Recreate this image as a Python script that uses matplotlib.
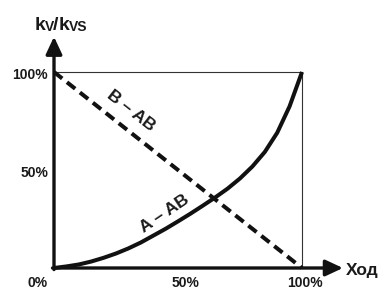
import matplotlib
matplotlib.use("Agg")
import matplotlib.pyplot as plt
import numpy as np

plt.rcParams['font.family'] = ['Liberation Sans', 'DejaVu Sans']
plt.rcParams['font.weight'] = 'bold'

# Data (fraction of stroke / fraction of kvs)
stroke = [0.0, 0.05, 0.10, 0.15, 0.20, 0.25, 0.30, 0.35, 0.40, 0.45, 0.50,
          0.55, 0.60, 0.65, 0.70, 0.75, 0.80, 0.85, 0.90, 0.95, 1.00]
a_ab = [0.0, 0.008, 0.018, 0.033, 0.052, 0.074, 0.100, 0.130, 0.165, 0.200, 0.238,
        0.277, 0.318, 0.360, 0.405, 0.457, 0.518, 0.592, 0.690, 0.825, 1.0]
b_ab_x = [0.0, 1.0]
b_ab_y = [1.0, 0.0]
x_ticks = [0.0, 0.5, 1.0]
x_tick_labels = ['0%', '50%', '100%']
y_ticks = [0.5, 1.0]
y_tick_labels = ['50%', '100%']

W, H = 390, 289
fig = plt.figure(figsize=(W / 100, H / 100), dpi=100)
ax = fig.add_axes([54 / W, 1 - 268 / H, 248 / W, 196 / H])
ax.set_xlim(0, 1)
ax.set_ylim(0, 1)

lw = 2.9
ax.plot(stroke, a_ab, color='#111111', lw=lw, solid_capstyle='butt', clip_on=False, zorder=3)
ax.plot(b_ab_x, b_ab_y, color='#111111', lw=lw, dashes=(2.6, 1.5), dash_capstyle='butt',
        clip_on=False, zorder=3)

for s in ['top', 'right']:
    ax.spines[s].set_linewidth(0.8)
    ax.spines[s].set_color('#333333')
for s in ['left', 'bottom']:
    ax.spines[s].set_visible(False)

ax.set_xticks([])
ax.set_yticks([])

# axes with arrows
arrow_style = '-|>,head_length=0.75,head_width=0.35'
ax.annotate('', xy=(1.165, 0), xytext=(-0.006, 0), xycoords='data',
            arrowprops=dict(arrowstyle=arrow_style, lw=2.4, color='#111111',
                            mutation_scale=14, shrinkA=0, shrinkB=0), annotation_clip=False)
ax.annotate('', xy=(0, 1.18), xytext=(0, -0.008), xycoords='data',
            arrowprops=dict(arrowstyle=arrow_style, lw=2.4, color='#111111',
                            mutation_scale=14, shrinkA=0, shrinkB=0), annotation_clip=False)

# tick labels
for v, lab, off in zip(x_ticks, x_tick_labels, [-16, 8, 3]):
    ax.annotate(lab, xy=(v, 0), xytext=(off, -15), textcoords='offset pixels',
                ha='center', va='center', fontsize=10, fontweight='bold', color='#1a1a1a',
                annotation_clip=False)
for v, lab in zip(y_ticks, y_tick_labels):
    ax.annotate(lab, xy=(0, v), xytext=(-6, -3), textcoords='offset pixels',
                ha='right', va='center', fontsize=10, fontweight='bold', color='#1a1a1a',
                annotation_clip=False)

# axis titles
ax.annotate('Ход', xy=(1.165, 0), xytext=(3, -3), textcoords='offset pixels',
            ha='left', va='center', fontsize=12.5, fontweight='bold', color='#1a1a1a',
            annotation_clip=False)
fig.text(35 / W, 1 - 30 / H, 'k', fontsize=14, fontweight='bold', color='#1a1a1a',
         ha='left', va='baseline')
fig.text(45 / W, 1 - 31 / H, 'V', fontsize=10, fontweight='bold', color='#1a1a1a',
         ha='left', va='baseline')
fig.text(53 / W, 1 - 30 / H, '/', fontsize=14, fontweight='bold', color='#1a1a1a',
         ha='left', va='baseline')
fig.text(59 / W, 1 - 30 / H, 'k', fontsize=14, fontweight='bold', color='#1a1a1a',
         ha='left', va='baseline')
fig.text(69 / W, 1 - 31 / H, 'VS', fontsize=10, fontweight='bold', color='#1a1a1a',
         ha='left', va='baseline')

# curve labels
ax.text(0.31, 0.80, 'B – AB', rotation=-38, rotation_mode='anchor', ha='center', va='center',
        fontsize=12.5, fontweight='bold', color='#1a1a1a')
ax.text(0.445, 0.278, 'A – AB', rotation=34, rotation_mode='anchor', ha='center', va='center',
        fontsize=12.5, fontweight='bold', color='#1a1a1a')

fig.savefig('out.png', dpi=100)
